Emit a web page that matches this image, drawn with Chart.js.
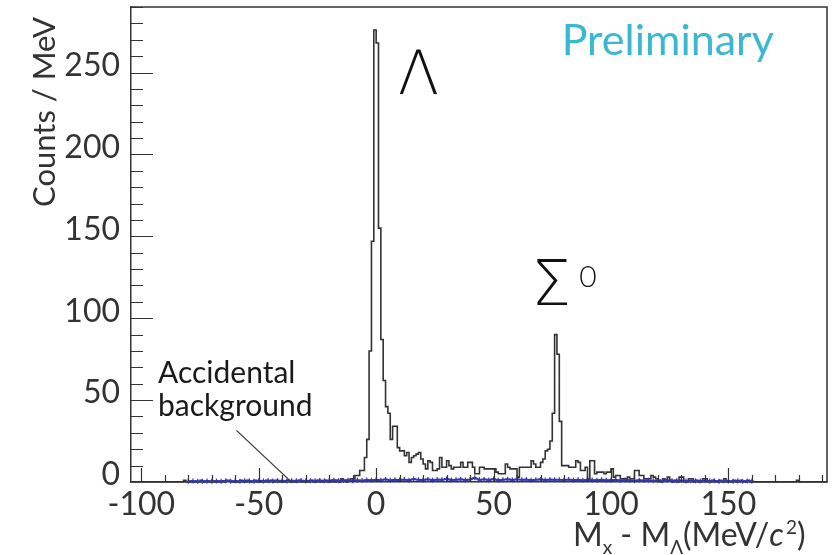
<!DOCTYPE html>
<html>
<head>
<meta charset="utf-8">
<script src="https://cdn.jsdelivr.net/npm/chart.js@4.4.1/dist/chart.umd.min.js"></script>
<style>
  html, body { margin: 0; padding: 0; background: #fff; }
  #wrap { width: 836px; height: 555px; }
</style>
</head>
<body>
<div id="wrap"><canvas id="grafico"></canvas></div>
<script>
// 1 MeV bins, lower edge of first bin
const binStart = -104;
const counts = [
  0, 0, 0, 0, 0, 0, 0, 0, 0, 0,        // -104
  0, 0, 0, 0, 0, 0, 0, 0, 0, 0,        // -94
  0, 0, 1, 0, 0, 0, 0, 0, 0, 1,        // -84
  0, 0, 0, 0, 0, 0, 0, 0, 0, 0,        // -74
  1, 1, 0, 0, 0, 0, 1, 0, 0, 1,        // -64
  0, 0, 1, 0, 0, 0, 0, 1, 0, 1,        // -54
  0, 1, 0, 0, 0, 0, 1, 0, 0, 0,        // -44
  0, 1, 0, 0, 0, 0, 1, 0, 0, 1,        // -34
  0, 0, 1, 0, 0, 1, 0, 1, 0, 2,        // -24
  1, 0, 1, 2, 2, 4, 4, 7, 7, 15,       // -14
  26, 80, 147, 276, 268, 155, 87, 62, 46, 42,   // -4
  26, 34, 34, 21, 19, 19, 16, 18, 12, 15,       // 6
  16, 17, 18, 14, 11, 8, 13, 12, 7, 7,          // 16
  8, 15, 9, 9, 13, 10, 8, 9, 9, 9,              // 26
  12, 9, 9, 12, 12, 9, 5, 5, 9, 9,              // 36
  8, 8, 8, 8, 8, 6, 5, 5, 5, 11,                // 46
  9, 8, 8, 8, 3, 9, 9, 9, 9, 9,                 // 56
  13, 11, 9, 9, 12, 14, 19, 20, 25, 42,         // 66
  90, 78, 37, 10, 10, 10, 9, 9, 9, 13,          // 76
  12, 7, 7, 9, 2, 13, 13, 5, 6, 6,              // 86
  6, 5, 6, 6, 8, 3, 4, 4, 2, 2,                 // 96
  2, 3, 2, 2, 7, 7, 4, 4, 2, 2,                 // 106
  2, 4, 3, 2, 1, 0, 2, 1, 3, 1,                 // 116
  0, 1, 0, 3, 3, 0, 0, 2, 2, 0,                 // 126
  1, 0, 0, 2, 2, 0, 0, 1, 0, 0,                 // 136
  1, 0, 2, 0, 0, 0, 1, 0, 0, 1,                 // 146
  0, 0, 1, 0, 0, 0, 0, 0, 0, 0,                 // 156
  0, 0, 0, 0, 0, 0, 0, 0, 0, 0,                 // 166
  0, 0, 0, 1, 0, 0, 0, 0, 0, 0,                 // 176
  0, 0, 0, 0, 0, 0                              // 186
];

// accidental background, 2 MeV steps from -80
const bgStart = -80;
const bgStep = 2;
const bgCounts = [
  0.4, 0.6, 0.4, 0.5, 0.6, 0.4, 0.6, 0.5, 0.7, 0.5,
  0.6, 0.5, 0.7, 0.6, 0.5, 0.8, 0.6, 0.7, 0.6, 0.8,
  0.7, 0.6, 0.8, 0.7, 0.9, 0.6, 0.8, 0.7, 0.9, 0.8,
  0.8, 1.0, 0.7, 0.9, 1.1, 0.8, 1.0, 0.9, 1.2, 1.0,
  1.3, 1.1, 1.6, 1.0, 1.4, 1.2, 1.5, 1.1, 1.8, 1.3,
  1.2, 1.6, 1.1, 1.5, 1.3, 1.9, 1.2, 1.4, 1.6, 1.2,
  1.5, 2.6, 1.3, 1.6, 1.2, 1.8, 1.1, 1.4, 1.7, 1.2,
  1.6, 1.3, 1.5, 1.1, 1.4, 1.6, 1.2, 1.5, 1.3, 1.4,
  1.2, 1.5, 1.1, 1.3, 1.0, 1.4, 1.2, 1.1, 1.3, 1.0,
  1.1, 1.3, 0.9, 1.2, 1.0, 0.8, 1.1, 0.9, 1.0, 0.8,
  0.9, 0.7, 1.0, 0.8, 0.7, 0.9, 0.6, 0.8, 0.7, 0.6,
  0.8, 0.6, 0.7, 0.5, 0.7, 0.6, 0.5, 0.7, 0.5, 0.6,
  0.5
];

const xTicks = [-100, -50, 0, 50, 100, 150];
const yTicks = [0, 50, 100, 150, 200, 250];

const FONT = 'Lato, "Open Sans", sans-serif';
const GREEK = '"DejaVu Sans", sans-serif';
const INK = '#333';

// histogram outline: one point per bin edge, stepped
const histPoints = counts.map((c, i) => ({ x: binStart + i, y: c }));
histPoints.push({ x: binStart + counts.length, y: 0 });
const bgPoints = bgCounts.map((c, i) => ({ x: bgStart + i * bgStep, y: c }));

const noPad = (s) => {
  s.paddingTop = 0; s.paddingBottom = 0;
  s.paddingLeft = 0; s.paddingRight = 0;
};

const decor = {
  id: 'decor',
  afterDraw(chart) {
    const { ctx, chartArea: a, scales: { x, y } } = chart;
    ctx.save();
    ctx.strokeStyle = INK;
    ctx.lineWidth = 1.5;
    // frame top + right
    ctx.beginPath();
    ctx.moveTo(a.left, a.top);
    ctx.lineTo(a.right, a.top);
    ctx.lineTo(a.right, a.bottom);
    ctx.stroke();

    // inward ticks
    ctx.lineWidth = 1.2;
    ctx.beginPath();
    for (let v = -100; v <= x.max; v += 10) {
      const px = Math.round(x.getPixelForValue(v)) + 0.5;
      const len = v % 50 === 0 ? 14 : 7;
      ctx.moveTo(px, a.bottom);
      ctx.lineTo(px, a.bottom - len);
    }
    for (let v = 10; v <= y.max; v += 10) {
      const py = Math.round(y.getPixelForValue(v)) + 0.5;
      const len = v % 50 === 0 ? 22 : 12;
      ctx.moveTo(a.left, py);
      ctx.lineTo(a.left + len, py);
    }
    ctx.stroke();

    // pointer to accidental background
    ctx.lineWidth = 1.2;
    ctx.beginPath();
    ctx.moveTo(x.getPixelForValue(-59.5), y.getPixelForValue(31.5));
    ctx.lineTo(x.getPixelForValue(-36.5), y.getPixelForValue(0.5));
    ctx.stroke();

    ctx.textBaseline = 'alphabetic';
    ctx.textAlign = 'left';
    ctx.fillStyle = '#111';

    // Lambda
    ctx.font = '200 60px ' + GREEK;
    ctx.fillText('Λ', x.getPixelForValue(9.3), y.getPixelForValue(237));
    // Sigma0
    ctx.font = '200 63px ' + GREEK;
    ctx.fillText('Σ', x.getPixelForValue(66.0), y.getPixelForValue(108));
    ctx.font = '300 30px ' + FONT;
    ctx.fillText('0', x.getPixelForValue(86.5), y.getPixelForValue(119));

    // Preliminary
    ctx.fillStyle = '#3ab8d2';
    ctx.font = '43px ' + FONT;
    ctx.fillText('Preliminary', x.getPixelForValue(79), y.getPixelForValue(260.5));

    // Accidental background
    ctx.fillStyle = '#1a1a1a';
    ctx.font = '30px ' + FONT;
    ctx.fillText('Accidental', 158, 383);
    ctx.fillText('background', 158, 416);

    // y title
    ctx.save();
    ctx.translate(55, 207);
    ctx.rotate(-Math.PI / 2);
    ctx.font = '31px ' + FONT;
    ctx.fillStyle = INK;
    ctx.fillText('Counts / MeV', 0, 0);
    ctx.restore();

    // x title with sub/superscripts
    const parts = [
      { t: 'M', f: '32px ', dy: 0 },
      { t: 'x', f: '19px ', dy: 8 },
      { t: ' - M', f: '32px ', dy: 0 },
      { t: 'Λ', f: '19px ', dy: 8 },
      { t: '(MeV/', f: '32px ', dy: 0 },
      { t: 'c', f: 'italic 32px ', dy: 0 },
      { t: '2', f: '19px ', dy: -12 },
      { t: ')', f: '32px ', dy: 0 }
    ];
    let cx = 573;
    ctx.fillStyle = INK;
    for (const p of parts) {
      ctx.font = p.f + FONT;
      ctx.fillText(p.t, cx, 546 + p.dy);
      cx += ctx.measureText(p.t).width + (p.t === 'c' ? 2 : 0);
    }
    ctx.restore();
  }
};

new Chart(document.getElementById('grafico'), {
  type: 'line',
  data: {
    datasets: [
      {
        label: 'Accidental background',
        data: bgPoints,
        borderColor: '#3438a8',
        borderWidth: 2,
        pointStyle: 'cross',
        pointRadius: 2.5,
        pointBorderWidth: 1.2,
        pointBorderColor: '#3438a8',
        clip: 6,
        fill: false
      },
      {
        label: 'Counts',
        data: histPoints,
        stepped: 'before',
        borderColor: INK,
        borderWidth: 1.6,
        pointRadius: 0,
        clip: 2,
        fill: false
      }
    ]
  },
  options: {
    responsive: true,
    maintainAspectRatio: false,
    animation: false,
    layout: { padding: { top: 7, right: 9, left: 0, bottom: 0 } },
    plugins: {
      legend: { display: false },
      tooltip: { enabled: false }
    },
    scales: {
      x: {
        type: 'linear',
        min: -104.4,
        max: 192,
        afterBuildTicks: (s) => { s.ticks = xTicks.map(v => ({ value: v })); },
        afterFit: (s) => { s.height = 73; noPad(s); },
        ticks: {
          font: { family: FONT, size: 32 },
          color: INK,
          padding: -5,
          maxRotation: 0,
          autoSkip: false
        },
        grid: { display: false },
        border: { display: true, color: INK, width: 1.5 }
      },
      y: {
        min: 0,
        max: 290,
        afterBuildTicks: (s) => { s.ticks = yTicks.map(v => ({ value: v })); },
        afterFit: (s) => { s.width = 131; noPad(s); },
        ticks: {
          font: { family: FONT, size: 32 },
          color: INK,
          padding: 3,
          labelOffset: -7
        },
        grid: { display: false },
        border: { display: true, color: INK, width: 1.5 }
      }
    }
  },
  plugins: [decor]
});
</script>
</body>
</html>
